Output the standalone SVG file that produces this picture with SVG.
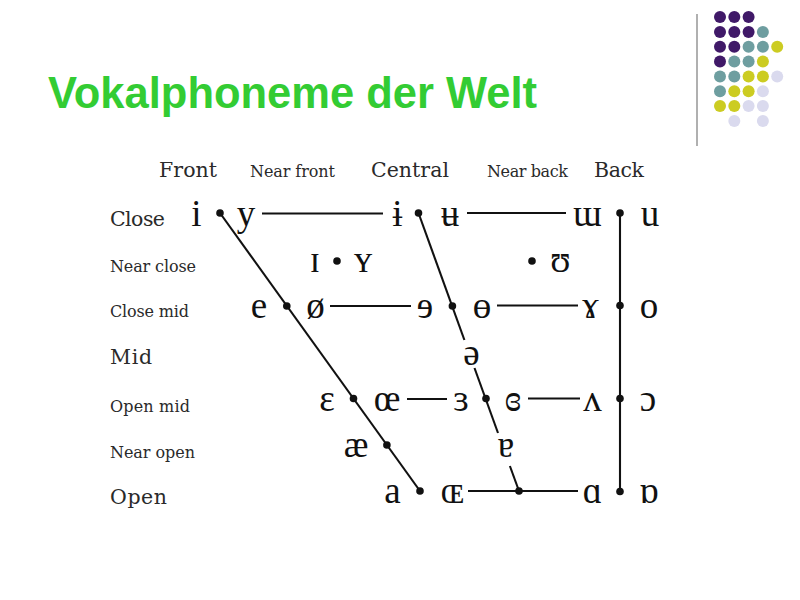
<svg xmlns="http://www.w3.org/2000/svg" width="800" height="600" viewBox="0 0 800 600">
<style>
.title{font-family:"Liberation Sans",Arial,sans-serif;font-weight:bold;font-size:43.5px;fill:#33CC33}
.ipa{font-family:"Liberation Serif","DejaVu Serif",serif;font-size:37px;fill:#111;text-anchor:middle}
.lb{font-family:"DejaVu Serif","Liberation Serif",serif;font-size:20.5px;fill:#2a2a2a}
.ls{font-family:"DejaVu Serif","Liberation Serif",serif;font-size:16px;fill:#2a2a2a}
.ln{stroke:#111;stroke-width:2.1;fill:none}
.pt{fill:#111}
.pu{fill:#401968}.te{fill:#6E9EA0}.ye{fill:#CCCC22}.la{fill:#DADAEE}
</style>
<rect width="800" height="600" fill="#fff"/>
<g id="decor">
<line x1="697" y1="14" x2="697" y2="146" stroke="#a8a8a8" stroke-width="1.8"/>
<circle class="pu" cx="720" cy="17" r="6"/><circle class="pu" cx="734.3" cy="17" r="6"/><circle class="pu" cx="748.6" cy="17" r="6"/>
<circle class="pu" cx="720" cy="31.9" r="6"/><circle class="pu" cx="734.3" cy="31.9" r="6"/><circle class="pu" cx="748.6" cy="31.9" r="6"/><circle class="te" cx="762.9" cy="31.9" r="6"/>
<circle class="pu" cx="720" cy="46.7" r="6"/><circle class="pu" cx="734.3" cy="46.7" r="6"/><circle class="te" cx="748.6" cy="46.7" r="6"/><circle class="te" cx="762.9" cy="46.7" r="6"/><circle class="ye" cx="777.2" cy="46.7" r="6"/>
<circle class="pu" cx="720" cy="61.6" r="6"/><circle class="te" cx="734.3" cy="61.6" r="6"/><circle class="te" cx="748.6" cy="61.6" r="6"/><circle class="ye" cx="762.9" cy="61.6" r="6"/>
<circle class="te" cx="720" cy="76.4" r="6"/><circle class="te" cx="734.3" cy="76.4" r="6"/><circle class="ye" cx="748.6" cy="76.4" r="6"/><circle class="ye" cx="762.9" cy="76.4" r="6"/><circle class="la" cx="777.2" cy="76.4" r="6"/>
<circle class="te" cx="720" cy="91.3" r="6"/><circle class="ye" cx="734.3" cy="91.3" r="6"/><circle class="ye" cx="748.6" cy="91.3" r="6"/><circle class="la" cx="762.9" cy="91.3" r="6"/>
<circle class="ye" cx="720" cy="106.1" r="6"/><circle class="ye" cx="734.3" cy="106.1" r="6"/><circle class="la" cx="748.6" cy="106.1" r="6"/><circle class="la" cx="762.9" cy="106.1" r="6"/>
<circle class="la" cx="734.3" cy="121" r="6"/><circle class="la" cx="762.9" cy="121" r="6"/>
</g>
<g id="title"><text class="title" x="48" y="108">Vokalphoneme der Welt</text></g>
<g id="headers">
<text class="lb" x="159" y="177" textLength="58">Front</text>
<text class="ls" x="250" y="177" textLength="85">Near front</text>
<text class="lb" x="371" y="177" textLength="78">Central</text>
<text class="ls" x="487" y="177" textLength="81">Near back</text>
<text class="lb" x="594" y="177" textLength="50">Back</text>
</g>
<g id="rows">
<text class="lb" x="110" y="226" textLength="55">Close</text>
<text class="ls" x="110" y="272" textLength="86">Near close</text>
<text class="ls" x="110" y="317" textLength="79">Close mid</text>
<text class="lb" x="110" y="364" textLength="42">Mid</text>
<text class="ls" x="110" y="412" textLength="80">Open mid</text>
<text class="ls" x="110" y="458" textLength="85">Near open</text>
<text class="lb" x="110" y="504" textLength="57">Open</text>
</g>
<g id="connectors">
<line class="ln" x1="220" y1="213" x2="420" y2="491"/>
<line class="ln" x1="418.5" y1="213" x2="464.4" y2="340"/>
<line class="ln" x1="474.5" y1="368" x2="498" y2="433"/>
<line class="ln" x1="509.9" y1="466" x2="519" y2="491"/>
<line class="ln" x1="620" y1="213" x2="620" y2="491.5"/>
<line class="ln" x1="262" y1="213.5" x2="383" y2="213.5"/>
<line class="ln" x1="467" y1="213" x2="566" y2="213"/>
<line class="ln" x1="330" y1="306" x2="411" y2="306"/>
<line class="ln" x1="497" y1="305.5" x2="578" y2="305.5"/>
<line class="ln" x1="407" y1="399" x2="447" y2="399"/>
<line class="ln" x1="528" y1="398.5" x2="580" y2="398.5"/>
<line class="ln" x1="468" y1="491" x2="578" y2="491"/>
<circle class="pt" cx="220" cy="213" r="3.8"/>
<circle class="pt" cx="418.5" cy="213" r="3.8"/>
<circle class="pt" cx="620" cy="213" r="3.8"/>
<circle class="pt" cx="337" cy="261" r="3.8"/>
<circle class="pt" cx="532" cy="261" r="3.8"/>
<circle class="pt" cx="286.8" cy="306" r="3.8"/>
<circle class="pt" cx="452.4" cy="306" r="3.8"/>
<circle class="pt" cx="620" cy="305.5" r="3.8"/>
<circle class="pt" cx="353.5" cy="398.5" r="3.8"/>
<circle class="pt" cx="486" cy="398.5" r="3.8"/>
<circle class="pt" cx="620" cy="398.5" r="3.8"/>
<circle class="pt" cx="386.9" cy="445" r="3.8"/>
<circle class="pt" cx="420" cy="491" r="3.8"/>
<circle class="pt" cx="519" cy="491" r="3.8"/>
<circle class="pt" cx="620" cy="491.5" r="3.8"/>
</g>
<g id="v-i"><text class="ipa" x="196.5" y="226">i</text></g>
<g id="v-y"><text class="ipa" x="246" y="226">y</text></g>
<g id="v-barred-i"><text class="ipa" x="397.5" y="226">ɨ</text></g>
<g id="v-barred-u"><text class="ipa" x="450" y="226">ʉ</text></g>
<g id="v-turned-m"><text class="ipa" x="587.5" y="226">ɯ</text></g>
<g id="v-u"><text class="ipa" x="650" y="226">u</text></g>
<g id="v-small-i"><text class="ipa" x="315" y="272">ɪ</text></g>
<g id="v-small-y"><text class="ipa" x="363" y="272">ʏ</text></g>
<g id="v-upsilon"><text class="ipa" x="560.5" y="272">ʊ</text></g>
<g id="v-e"><text class="ipa" x="259" y="318">e</text></g>
<g id="v-oslash"><text class="ipa" x="315.5" y="318">ø</text></g>
<g id="v-rev-e"><text class="ipa" x="425" y="318">ɘ</text></g>
<g id="v-barred-o"><text class="ipa" x="482" y="318">ɵ</text></g>
<g id="v-ram-horn"><text class="ipa" x="590.5" y="318">ɤ</text></g>
<g id="v-o"><text class="ipa" x="649" y="318">o</text></g>
<g id="v-schwa"><text class="ipa" x="471.5" y="365">ə</text></g>
<g id="v-epsilon"><text class="ipa" x="327" y="411">ɛ</text></g>
<g id="v-oe"><text class="ipa" x="387" y="411">œ</text></g>
<g id="v-rev-epsilon"><text class="ipa" x="461" y="411">ɜ</text></g>
<g id="v-closed-rev-epsilon"><text class="ipa" x="513" y="411">ɞ</text></g>
<g id="v-turned-v"><text class="ipa" x="592.5" y="411">ʌ</text></g>
<g id="v-open-o"><text class="ipa" x="648" y="411">ɔ</text></g>
<g id="v-ae"><text class="ipa" x="356" y="457">æ</text></g>
<g id="v-turned-a"><text class="ipa" x="506" y="457">ɐ</text></g>
<g id="v-a"><text class="ipa" x="392.5" y="503">a</text></g>
<g id="v-small-oe"><text class="ipa" x="452.5" y="503">ɶ</text></g>
<g id="v-alpha"><text class="ipa" x="592.5" y="503">ɑ</text></g>
<g id="v-turned-alpha"><text class="ipa" x="649" y="503">ɒ</text></g>
</svg>
